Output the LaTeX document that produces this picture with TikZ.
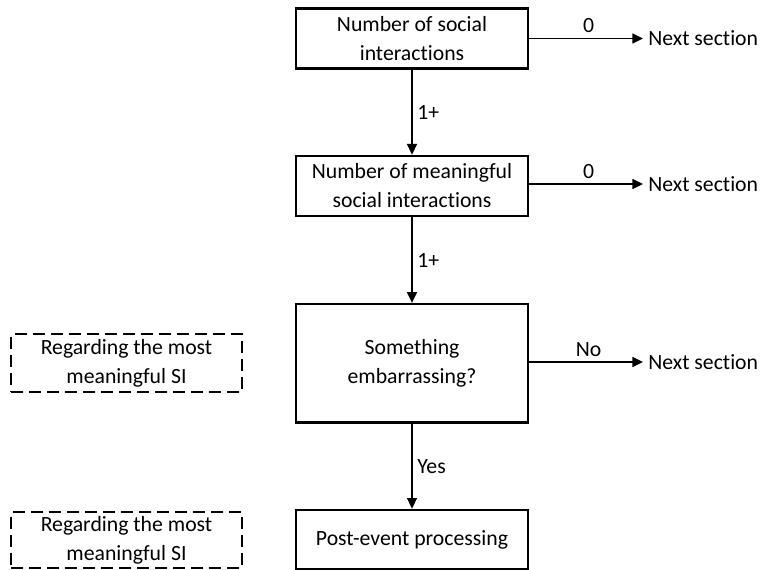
\documentclass[tikz,border=0pt]{standalone}
\usepackage{fontspec}
\setmainfont[Ligatures=NoCommon]{Carlito}
\usetikzlibrary{arrows.meta}
\begin{document}
\begin{tikzpicture}[x=0.75pt,y=-0.75pt,
  every node/.style={font=\fontsize{16.3}{21.75}\selectfont},
  procbox/.style={draw,line width=2pt,minimum width=174pt,align=center,inner sep=0pt},
  notebox/.style={draw,line width=1.8pt,dash pattern=on 9pt off 4.5pt,minimum width=173pt,align=center,inner sep=0pt},
  conn/.style={line width=1.1pt,-{Triangle[length=8pt,width=7.5pt]}},
  lblabove/.style={above=3.5pt,inner sep=0pt},
  lblright/.style={right=3.5pt,inner sep=0pt},
  nextnode/.style={anchor=west,inner sep=0pt}]
\useasboundingbox (0,0) rectangle (761,570);
% main boxes
\node[procbox,minimum height=45pt] (b1) at (412,38.5) {Number of social\\interactions};
\node[procbox,minimum height=45pt] (b2) at (412,186) {Number of meaningful\\social interactions};
\node[procbox,minimum height=89pt] (b3) at (412,363.5) {Something\\embarrassing?};
\node[procbox,minimum height=44.25pt] (b4) at (412,539.5) {Post-event processing};
% note boxes
\node[notebox,minimum height=43.5pt] (d1) at (126.5,363) {Regarding the most\\meaningful SI};
\node[notebox,minimum height=42pt] (d2) at (126.5,540) {Regarding the most\\meaningful SI};
% next section nodes
\node[nextnode] (n1) at (648,38.5) {Next section};
\node[nextnode] (n2) at (648,184) {Next section};
\node[nextnode] (n3) at (648,362) {Next section};
% vertical connectors
\draw[conn] (b1) -- (b2) node[pos=0.5,lblright]{1+};
\draw[conn] (b2) -- (b3) node[pos=0.5,lblright]{1+};
\draw[conn] (b3) -- (b4) node[pos=0.5,lblright]{Yes};
% horizontal connectors
\draw[conn,shorten >=3.75pt] (b1.east |- n1.west) -- (n1.west) node[pos=0.5,lblabove]{0};
\draw[conn,shorten >=3.75pt] (b2.east |- n2.west) -- (n2.west) node[pos=0.5,lblabove]{0};
\draw[conn,shorten >=3.75pt] (b3.east |- n3.west) -- (n3.west) node[pos=0.5,lblabove]{No};
\end{tikzpicture}
\end{document}
